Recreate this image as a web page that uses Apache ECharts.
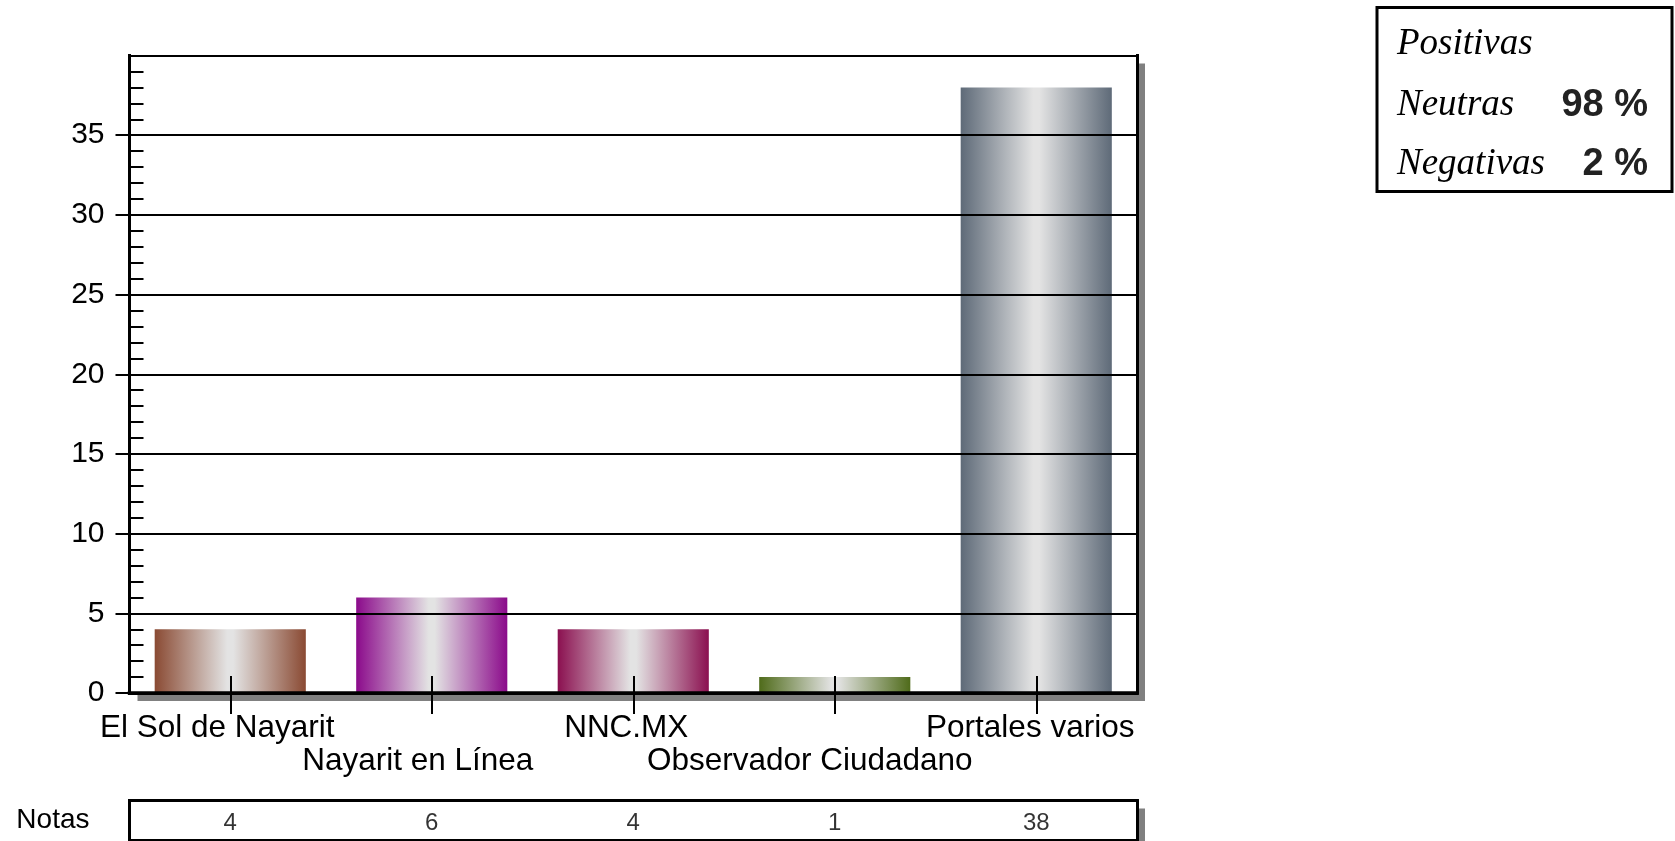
<!DOCTYPE html>
<html><head><meta charset="utf-8">
<script src="https://cdn.jsdelivr.net/npm/echarts@6/dist/echarts.min.js"></script>
<style>html,body{margin:0;padding:0;background:#fff}#c{width:1675px;height:841px}</style>
</head><body><div id="c"></div>
<script>
const categories = ['El Sol de Nayarit', 'Nayarit en Línea', 'NNC.MX', 'Observador Ciudadano', 'Portales varios'];
const notas = [4, 6, 4, 1, 38];
const yMax = 40;
const yStep = 5;
const tableLabel = 'Notas';
const sentimentLabels = ['Positivas', 'Neutras', 'Negativas'];
const sentimentValues = ['', '98 %', '2 %'];

// styles (kept apart from data)
const barColors = ['#8a4a33', '#8b0a8b', '#8b1050', '#4f6b1a', '#5e6a78'];
const labelShiftLeft = [13, 14, 7, 25, 6];
const lightMid = '#e3e3e3';
const SANS = '"Liberation Sans", Arial, Helvetica, sans-serif';
const SERIF = '"Liberation Serif", "Times New Roman", serif';

function grad(c) {
  return new echarts.graphic.LinearGradient(0, 0, 1, 0, [
    { offset: 0, color: c },
    { offset: 0.48, color: lightMid },
    { offset: 0.52, color: lightMid },
    { offset: 1, color: c }
  ]);
}

const chart = echarts.init(document.getElementById('c'), null, { renderer: 'canvas' });
const gridStyle = {
  show: true, backgroundColor: '#fff', borderWidth: 0,
  shadowColor: '#808080', shadowBlur: 0, shadowOffsetX: 8, shadowOffsetY: 8,
  containLabel: false, outerBoundsMode: 'none'
};
const borderLine = { show: true, lineStyle: { color: '#000', width: 3, cap: 'square' } };
const off = { show: false };

const legendChildren = [
  { type: 'rect', shape: { x: 1377, y: 7.5, width: 295, height: 184 }, style: { fill: '#fff', stroke: '#000', lineWidth: 3 } }
];
const rowY = [44, 105, 164];
sentimentLabels.forEach((t, i) => {
  legendChildren.push({ type: 'text', x: 1397, y: rowY[i], style: { text: t, font: 'italic 37px ' + SERIF, fill: '#000', align: 'left', verticalAlign: 'middle' } });
  if (sentimentValues[i]) {
    legendChildren.push({ type: 'text', x: 1648, y: rowY[i] + 1, style: { text: sentimentValues[i], font: 'bold 38px ' + SANS, fill: '#222', align: 'right', verticalAlign: 'middle' } });
  }
});

const xCatData = categories.map((c, i) => ({
  value: c,
  textStyle: { padding: [0, 2 * labelShiftLeft[i], 0, 0] }
}));

chart.setOption({
  animation: false,
  backgroundColor: '#fff',
  grid: [
    Object.assign({ left: 129.5, top: 55.5, width: 1007.5, height: 637.5 }, gridStyle),
    Object.assign({ left: 129.5, top: 800.6, width: 1007.5, height: 39.5 }, gridStyle)
  ],
  xAxis: [
    {
      gridIndex: 0, type: 'category', data: xCatData, position: 'bottom', z: 5,
      axisLine: { show: true, lineStyle: { color: '#000', width: 3.5, cap: 'square' } },
      axisTick: { show: true, alignWithLabel: true, length: 21, lineStyle: { color: '#000', width: 2 } },
      axisLabel: {
        interval: 0, color: '#000', fontSize: 31.5, fontFamily: SANS, margin: 19, lineHeight: 33,
        formatter: (v, i) => (i % 2 ? '\n' + v : v)
      },
      splitLine: off
    },
    {
      gridIndex: 0, type: 'category', data: categories, position: 'bottom', z: 5,
      axisLine: off,
      axisTick: { show: true, inside: true, alignWithLabel: true, length: 17, lineStyle: { color: '#000', width: 2 } },
      axisLabel: off, splitLine: off
    },
    {
      gridIndex: 1, type: 'category', data: categories, position: 'bottom',
      axisLine: borderLine, axisTick: off, axisLabel: off, splitLine: off
    },
    {
      gridIndex: 0, type: 'category', data: categories, position: 'top', z: 5,
      axisLine: borderLine, axisTick: off, axisLabel: off, splitLine: off
    },
    {
      gridIndex: 1, type: 'category', data: categories, position: 'top',
      axisLine: borderLine, axisTick: off, axisLabel: off, splitLine: off
    }
  ],
  yAxis: [
    {
      gridIndex: 0, type: 'value', min: 0, max: yMax, interval: yStep, position: 'left', z: 5,
      axisLine: borderLine,
      axisTick: { show: true, length: 14, lineStyle: { color: '#000', width: 2 } },
      axisLabel: { showMaxLabel: false, color: '#000', fontSize: 30, fontFamily: SANS, margin: 25 },
      splitLine: { show: true, lineStyle: { color: '#000', width: 2 } }
    },
    {
      gridIndex: 0, type: 'value', min: 0, max: yMax, interval: yStep, position: 'left', z: 5,
      axisLine: off,
      axisTick: { show: true, inside: true, length: 14, lineStyle: { color: '#000', width: 2 } },
      minorTick: { show: true, splitNumber: 5, length: 14, lineStyle: { color: '#000', width: 2 } },
      axisLabel: off, splitLine: off
    },
    {
      gridIndex: 1, type: 'category', data: [tableLabel], position: 'left',
      axisLine: borderLine, axisTick: off,
      axisLabel: { color: '#000', fontSize: 28, fontFamily: SANS, margin: 40 },
      splitLine: off
    },
    {
      gridIndex: 0, type: 'value', min: 0, max: yMax, interval: yStep, position: 'right', z: 5,
      axisLine: borderLine, axisTick: off, axisLabel: off, splitLine: off
    },
    {
      gridIndex: 1, type: 'category', data: [tableLabel], position: 'right',
      axisLine: borderLine, axisTick: off, axisLabel: off, splitLine: off
    }
  ],
  series: [
    {
      type: 'bar', xAxisIndex: 0, yAxisIndex: 0, barWidth: '75%',
      data: notas.map((v, i) => ({ value: v, itemStyle: { color: grad(barColors[i]) } }))
    },
    {
      type: 'scatter', xAxisIndex: 2, yAxisIndex: 2, symbolSize: 1,
      itemStyle: { color: 'rgba(0,0,0,0)' },
      data: notas.map((v, i) => [categories[i], tableLabel, v]),
      label: { show: true, position: 'inside', offset: [0, 3], formatter: p => String(p.value[2]), color: '#000', fontSize: 24, fontFamily: SANS }
    }
  ],
  graphic: [{ type: 'group', children: legendChildren }]
});
</script>
</body></html>
